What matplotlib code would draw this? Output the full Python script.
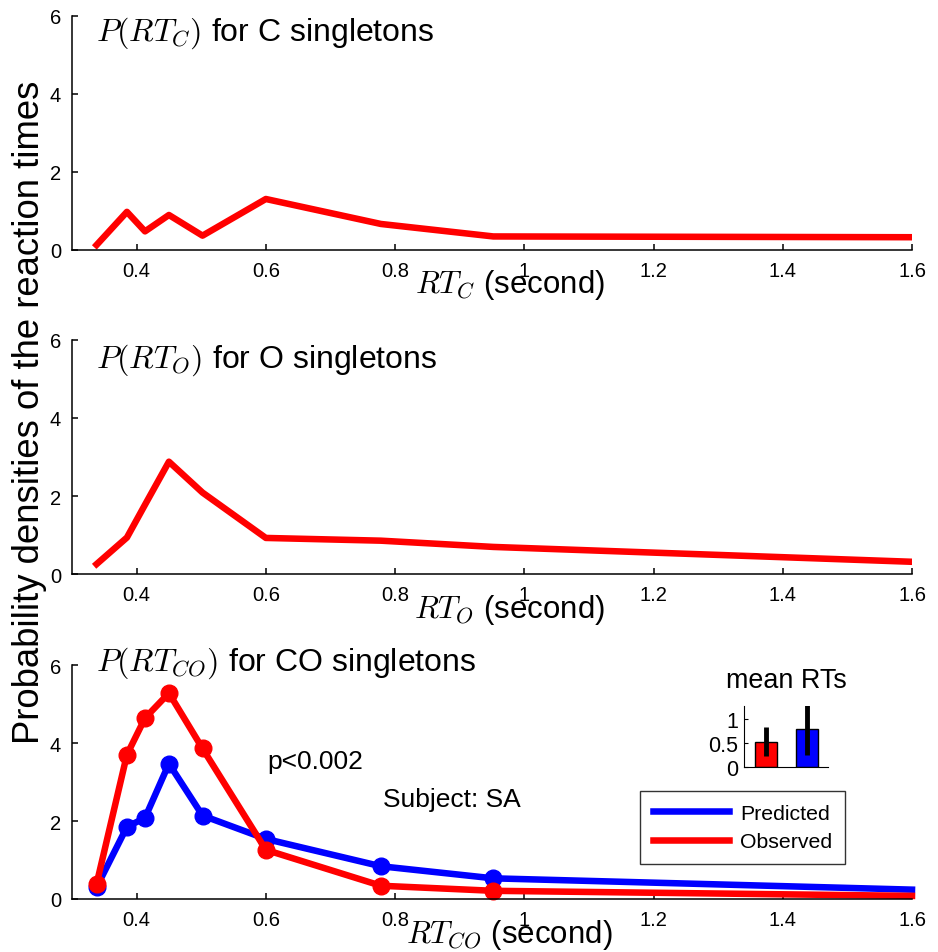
import matplotlib
matplotlib.use("Agg")
import matplotlib.pyplot as plt
from matplotlib.lines import Line2D

plt.rcParams["font.family"] = ["Liberation Sans", "DejaVu Sans"]
plt.rcParams["mathtext.fontset"] = "cm"

# reaction time grid (seconds)
rt = [0.338, 0.385, 0.413, 0.45, 0.502, 0.6, 0.778, 0.952, 1.6]

dens_c = [0.12, 0.97, 0.47, 0.89, 0.36, 1.30, 0.66, 0.34, 0.32]
dens_o = [0.26, 0.94, 1.78, 2.88, 2.09, 0.93, 0.86, 0.70, 0.32]
co_observed = [0.38, 3.70, 4.64, 5.28, 3.86, 1.26, 0.34, 0.21, 0.08]
co_predicted = [0.30, 1.85, 2.08, 3.47, 2.14, 1.54, 0.84, 0.53, 0.24]

# inset: mean RTs
mean_labels = ["Observed", "Predicted"]
mean_rt = [0.53, 0.79]
mean_err = [0.31, 0.54]
mean_colors = ["red", "blue"]

W, H = 938, 953
fig = plt.figure(figsize=(W / 100, H / 100), dpi=100)


def px_axes(left, right, top, bottom):
    return fig.add_axes([left / W, 1 - bottom / H, (right - left) / W, (bottom - top) / H])


def style(ax):
    ax.set_xlim(0.3, 1.6)
    ax.set_ylim(0, 6)
    ax.set_xticks([0.4, 0.6, 0.8, 1.0, 1.2, 1.4, 1.6])
    ax.set_xticklabels(["0.4", "0.6", "0.8", "1", "1.2", "1.4", "1.6"])
    ax.set_yticks([0, 2, 4, 6])
    ax.spines["top"].set_visible(False)
    ax.spines["right"].set_visible(False)
    for s in ("left", "bottom"):
        ax.spines[s].set_linewidth(1.1)
    ax.tick_params(direction="in", length=4, width=1.1, labelsize=14.5, pad=8)


ax1 = px_axes(72, 912, 16.7, 250.7)
ax2 = px_axes(72, 912, 340.7, 575.3)
ax3 = px_axes(72, 912, 666, 900)

lw = 4.7
ax1.plot(rt, dens_c, color="red", lw=lw)
ax2.plot(rt, dens_o, color="red", lw=lw)
marks = list(range(len(rt) - 1))
ax3.plot(rt, co_predicted, color="blue", lw=lw, marker="o", ms=12,
         markevery=marks, clip_on=False)
ax3.plot(rt, co_observed, color="red", lw=lw, marker="o", ms=12,
         markevery=marks, clip_on=False)

titles = [r"$P(RT_C)$ for C singletons", r"$P(RT_O)$ for O singletons",
          r"$P(RT_{CO})$ for CO singletons"]
xlabels = [r"$RT_C$ (second)", r"$RT_O$ (second)", r"$RT_{CO}$ (second)"]
title_y = [0.93, 0.918, 1.013]

for ax, t, xl, ty in zip([ax1, ax2, ax3], titles, xlabels, title_y):
    style(ax)
    ax.text(0.028, ty, t, transform=ax.transAxes, fontsize=23, va="center", ha="left")
    ax.set_xlabel(xl, fontsize=22.5)
    ax.xaxis.set_label_coords(0.521, -0.148)
    ax.xaxis.label.set_va("center")

ax3.text(0.233, 0.59, "p<0.002", transform=ax3.transAxes, fontsize=19, va="center")
ax3.text(0.370, 0.427, "Subject: SA", transform=ax3.transAxes, fontsize=19, va="center")

handles = [Line2D([], [], color="blue", lw=lw), Line2D([], [], color="red", lw=lw)]
leg = ax3.legend(handles, ["Predicted", "Observed"], loc="upper left",
                 bbox_to_anchor=(640 / W, 1 - 792 / H),
                 bbox_transform=fig.transFigure, fontsize=15.3, frameon=True,
                 fancybox=False, edgecolor="black", handlelength=3.6,
                 handletextpad=0.5, borderaxespad=0, borderpad=0.6,
                 labelspacing=0.45)
leg.get_frame().set_linewidth(1.0)

fig.text(30 / W, 1 - 412 / H, "Probability densities of the reaction times",
         rotation=90, fontsize=26.3, va="center", ha="center")

# inset with mean RTs
axi = px_axes(744, 828, 707, 768)
axi.bar([1, 2], mean_rt, width=0.53, color=mean_colors, edgecolor="black", linewidth=1)
axi.errorbar([1, 2], mean_rt, yerr=mean_err, fmt="none", ecolor="black", elinewidth=3.5,
             capsize=0)
axi.set_xlim(0.47, 2.5)
axi.set_ylim(0, 1.27)
axi.set_yticks([0, 0.5, 1])
axi.set_yticklabels(["0", "0.5", "1"])
axi.set_xticks([])
axi.spines["top"].set_visible(False)
axi.spines["right"].set_visible(False)
axi.tick_params(direction="in", length=3, labelsize=15.5, pad=4)
axi.set_title("mean RTs", fontsize=19.4, pad=14)

fig.savefig("out.png", dpi=100)
